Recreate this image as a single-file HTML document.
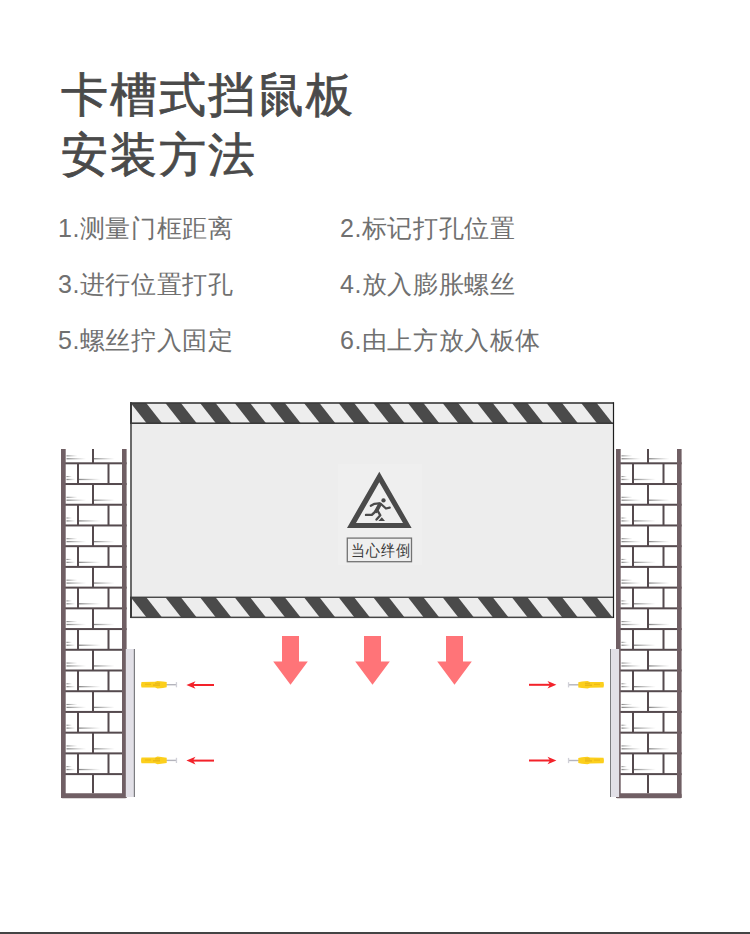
<!DOCTYPE html>
<html><head><meta charset="utf-8">
<style>
*{margin:0;padding:0;box-sizing:border-box}
html,body{width:750px;height:934px;background:#fff;overflow:hidden;font-family:"Liberation Sans",sans-serif;position:relative}
.t{position:absolute;left:61px;top:64.5px;color:#4a4a4a;font-size:47px;line-height:60px;white-space:nowrap;letter-spacing:2px;-webkit-text-stroke:0.8px #4a4a4a}
.li{position:absolute;color:#707070;font-size:25px;line-height:30px;white-space:nowrap;letter-spacing:0.55px}
.sg{position:absolute;left:351.3px;top:540px;font-size:14px;line-height:20px;color:#3a3a3a;white-space:nowrap;letter-spacing:0.75px;z-index:2;transform:scale(1,1.14);transform-origin:50% 50%}
</style></head><body>
<svg width="750" height="934" viewBox="0 0 750 934" style="position:absolute;left:0;top:0">
<defs>
<linearGradient id="sg" x1="0" x2="1" y1="0" y2="0"><stop offset="0" stop-color="#505050" stop-opacity="0.7"/><stop offset="0.5" stop-color="#606060" stop-opacity="0.35"/><stop offset="1" stop-color="#808080" stop-opacity="0"/></linearGradient>
<clipPath id="c1"><rect x="130.5" y="403" width="483" height="20.2"/></clipPath>
<clipPath id="c2"><rect x="130.5" y="597.3" width="483" height="20.2"/></clipPath>
</defs>
<rect x="61" y="449" width="65.6" height="346" fill="#fff"/>
<rect x="66.5" y="458.1" width="19.66" height="1.3" fill="url(#sg)"/>
<rect x="66.5" y="455.3" width="11" height="1.1" fill="url(#sg)"/>
<rect x="93.8" y="458.1" width="20.88" height="1.3" fill="url(#sg)"/>
<rect x="92" y="449" width="2" height="14.3" fill="#554a4e"/>
<rect x="66.5" y="478.82" width="8.86" height="1.3" fill="url(#sg)"/>
<rect x="66.5" y="476.02" width="5.53" height="1.1" fill="url(#sg)"/>
<rect x="78.8" y="478.82" width="21.96" height="1.3" fill="url(#sg)"/>
<rect x="77" y="463.3" width="2" height="20.72" fill="#554a4e"/>
<rect x="107.5" y="463.3" width="2" height="20.72" fill="#554a4e"/>
<rect x="66.5" y="499.54" width="19.66" height="1.3" fill="url(#sg)"/>
<rect x="66.5" y="496.74" width="11" height="1.1" fill="url(#sg)"/>
<rect x="93.8" y="499.54" width="20.88" height="1.3" fill="url(#sg)"/>
<rect x="92" y="484.02" width="2" height="20.72" fill="#554a4e"/>
<rect x="66.5" y="520.26" width="8.86" height="1.3" fill="url(#sg)"/>
<rect x="66.5" y="517.46" width="5.53" height="1.1" fill="url(#sg)"/>
<rect x="78.8" y="520.26" width="21.96" height="1.3" fill="url(#sg)"/>
<rect x="77" y="504.74" width="2" height="20.72" fill="#554a4e"/>
<rect x="107.5" y="504.74" width="2" height="20.72" fill="#554a4e"/>
<rect x="66.5" y="540.98" width="19.66" height="1.3" fill="url(#sg)"/>
<rect x="66.5" y="538.18" width="11" height="1.1" fill="url(#sg)"/>
<rect x="93.8" y="540.98" width="20.88" height="1.3" fill="url(#sg)"/>
<rect x="92" y="525.46" width="2" height="20.72" fill="#554a4e"/>
<rect x="66.5" y="561.7" width="8.86" height="1.3" fill="url(#sg)"/>
<rect x="66.5" y="558.9" width="5.53" height="1.1" fill="url(#sg)"/>
<rect x="78.8" y="561.7" width="21.96" height="1.3" fill="url(#sg)"/>
<rect x="77" y="546.18" width="2" height="20.72" fill="#554a4e"/>
<rect x="107.5" y="546.18" width="2" height="20.72" fill="#554a4e"/>
<rect x="66.5" y="582.42" width="19.66" height="1.3" fill="url(#sg)"/>
<rect x="66.5" y="579.62" width="11" height="1.1" fill="url(#sg)"/>
<rect x="93.8" y="582.42" width="20.88" height="1.3" fill="url(#sg)"/>
<rect x="92" y="566.9" width="2" height="20.72" fill="#554a4e"/>
<rect x="66.5" y="603.14" width="8.86" height="1.3" fill="url(#sg)"/>
<rect x="66.5" y="600.34" width="5.53" height="1.1" fill="url(#sg)"/>
<rect x="78.8" y="603.14" width="21.96" height="1.3" fill="url(#sg)"/>
<rect x="77" y="587.62" width="2" height="20.72" fill="#554a4e"/>
<rect x="107.5" y="587.62" width="2" height="20.72" fill="#554a4e"/>
<rect x="66.5" y="623.86" width="19.66" height="1.3" fill="url(#sg)"/>
<rect x="66.5" y="621.06" width="11" height="1.1" fill="url(#sg)"/>
<rect x="93.8" y="623.86" width="20.88" height="1.3" fill="url(#sg)"/>
<rect x="92" y="608.34" width="2" height="20.72" fill="#554a4e"/>
<rect x="66.5" y="644.58" width="8.86" height="1.3" fill="url(#sg)"/>
<rect x="66.5" y="641.78" width="5.53" height="1.1" fill="url(#sg)"/>
<rect x="78.8" y="644.58" width="21.96" height="1.3" fill="url(#sg)"/>
<rect x="77" y="629.06" width="2" height="20.72" fill="#554a4e"/>
<rect x="107.5" y="629.06" width="2" height="20.72" fill="#554a4e"/>
<rect x="66.5" y="665.3" width="19.66" height="1.3" fill="url(#sg)"/>
<rect x="66.5" y="662.5" width="11" height="1.1" fill="url(#sg)"/>
<rect x="93.8" y="665.3" width="20.88" height="1.3" fill="url(#sg)"/>
<rect x="92" y="649.78" width="2" height="20.72" fill="#554a4e"/>
<rect x="66.5" y="686.02" width="8.86" height="1.3" fill="url(#sg)"/>
<rect x="66.5" y="683.22" width="5.53" height="1.1" fill="url(#sg)"/>
<rect x="78.8" y="686.02" width="21.96" height="1.3" fill="url(#sg)"/>
<rect x="77" y="670.5" width="2" height="20.72" fill="#554a4e"/>
<rect x="107.5" y="670.5" width="2" height="20.72" fill="#554a4e"/>
<rect x="66.5" y="706.74" width="19.66" height="1.3" fill="url(#sg)"/>
<rect x="66.5" y="703.94" width="11" height="1.1" fill="url(#sg)"/>
<rect x="93.8" y="706.74" width="20.88" height="1.3" fill="url(#sg)"/>
<rect x="92" y="691.22" width="2" height="20.72" fill="#554a4e"/>
<rect x="66.5" y="727.46" width="8.86" height="1.3" fill="url(#sg)"/>
<rect x="66.5" y="724.66" width="5.53" height="1.1" fill="url(#sg)"/>
<rect x="78.8" y="727.46" width="21.96" height="1.3" fill="url(#sg)"/>
<rect x="77" y="711.94" width="2" height="20.72" fill="#554a4e"/>
<rect x="107.5" y="711.94" width="2" height="20.72" fill="#554a4e"/>
<rect x="66.5" y="748.18" width="19.66" height="1.3" fill="url(#sg)"/>
<rect x="66.5" y="745.38" width="11" height="1.1" fill="url(#sg)"/>
<rect x="93.8" y="748.18" width="20.88" height="1.3" fill="url(#sg)"/>
<rect x="92" y="732.66" width="2" height="20.72" fill="#554a4e"/>
<rect x="66.5" y="768.9" width="8.86" height="1.3" fill="url(#sg)"/>
<rect x="66.5" y="766.1" width="5.53" height="1.1" fill="url(#sg)"/>
<rect x="78.8" y="768.9" width="21.96" height="1.3" fill="url(#sg)"/>
<rect x="77" y="753.38" width="2" height="20.72" fill="#554a4e"/>
<rect x="107.5" y="753.38" width="2" height="20.72" fill="#554a4e"/>
<rect x="92" y="774.1" width="2" height="19.2" fill="#554a4e"/>
<rect x="61" y="462.3" width="65.6" height="2" fill="#554a4e"/>
<rect x="61" y="483.02" width="65.6" height="2" fill="#554a4e"/>
<rect x="61" y="503.74" width="65.6" height="2" fill="#554a4e"/>
<rect x="61" y="524.46" width="65.6" height="2" fill="#554a4e"/>
<rect x="61" y="545.18" width="65.6" height="2" fill="#554a4e"/>
<rect x="61" y="565.9" width="65.6" height="2" fill="#554a4e"/>
<rect x="61" y="586.62" width="65.6" height="2" fill="#554a4e"/>
<rect x="61" y="607.34" width="65.6" height="2" fill="#554a4e"/>
<rect x="61" y="628.06" width="65.6" height="2" fill="#554a4e"/>
<rect x="61" y="648.78" width="65.6" height="2" fill="#554a4e"/>
<rect x="61" y="669.5" width="65.6" height="2" fill="#554a4e"/>
<rect x="61" y="690.22" width="65.6" height="2" fill="#554a4e"/>
<rect x="61" y="710.94" width="65.6" height="2" fill="#554a4e"/>
<rect x="61" y="731.66" width="65.6" height="2" fill="#554a4e"/>
<rect x="61" y="752.38" width="65.6" height="2" fill="#554a4e"/>
<rect x="61" y="773.1" width="65.6" height="2" fill="#554a4e"/>
<rect x="61" y="449" width="4.7" height="349" fill="#705f64"/>
<rect x="122" y="449" width="4.6" height="349" fill="#705f64"/>
<rect x="61" y="793.2" width="65.6" height="5" rx="1.5" fill="#705f64"/>
<rect x="616" y="449" width="65.6" height="346" fill="#fff"/>
<rect x="621.5" y="458.1" width="19.66" height="1.3" fill="url(#sg)"/>
<rect x="621.5" y="455.3" width="11" height="1.1" fill="url(#sg)"/>
<rect x="648.8" y="458.1" width="20.88" height="1.3" fill="url(#sg)"/>
<rect x="647" y="449" width="2" height="14.3" fill="#554a4e"/>
<rect x="621.5" y="478.82" width="8.86" height="1.3" fill="url(#sg)"/>
<rect x="621.5" y="476.02" width="5.53" height="1.1" fill="url(#sg)"/>
<rect x="633.8" y="478.82" width="21.96" height="1.3" fill="url(#sg)"/>
<rect x="632" y="463.3" width="2" height="20.72" fill="#554a4e"/>
<rect x="662.5" y="463.3" width="2" height="20.72" fill="#554a4e"/>
<rect x="621.5" y="499.54" width="19.66" height="1.3" fill="url(#sg)"/>
<rect x="621.5" y="496.74" width="11" height="1.1" fill="url(#sg)"/>
<rect x="648.8" y="499.54" width="20.88" height="1.3" fill="url(#sg)"/>
<rect x="647" y="484.02" width="2" height="20.72" fill="#554a4e"/>
<rect x="621.5" y="520.26" width="8.86" height="1.3" fill="url(#sg)"/>
<rect x="621.5" y="517.46" width="5.53" height="1.1" fill="url(#sg)"/>
<rect x="633.8" y="520.26" width="21.96" height="1.3" fill="url(#sg)"/>
<rect x="632" y="504.74" width="2" height="20.72" fill="#554a4e"/>
<rect x="662.5" y="504.74" width="2" height="20.72" fill="#554a4e"/>
<rect x="621.5" y="540.98" width="19.66" height="1.3" fill="url(#sg)"/>
<rect x="621.5" y="538.18" width="11" height="1.1" fill="url(#sg)"/>
<rect x="648.8" y="540.98" width="20.88" height="1.3" fill="url(#sg)"/>
<rect x="647" y="525.46" width="2" height="20.72" fill="#554a4e"/>
<rect x="621.5" y="561.7" width="8.86" height="1.3" fill="url(#sg)"/>
<rect x="621.5" y="558.9" width="5.53" height="1.1" fill="url(#sg)"/>
<rect x="633.8" y="561.7" width="21.96" height="1.3" fill="url(#sg)"/>
<rect x="632" y="546.18" width="2" height="20.72" fill="#554a4e"/>
<rect x="662.5" y="546.18" width="2" height="20.72" fill="#554a4e"/>
<rect x="621.5" y="582.42" width="19.66" height="1.3" fill="url(#sg)"/>
<rect x="621.5" y="579.62" width="11" height="1.1" fill="url(#sg)"/>
<rect x="648.8" y="582.42" width="20.88" height="1.3" fill="url(#sg)"/>
<rect x="647" y="566.9" width="2" height="20.72" fill="#554a4e"/>
<rect x="621.5" y="603.14" width="8.86" height="1.3" fill="url(#sg)"/>
<rect x="621.5" y="600.34" width="5.53" height="1.1" fill="url(#sg)"/>
<rect x="633.8" y="603.14" width="21.96" height="1.3" fill="url(#sg)"/>
<rect x="632" y="587.62" width="2" height="20.72" fill="#554a4e"/>
<rect x="662.5" y="587.62" width="2" height="20.72" fill="#554a4e"/>
<rect x="621.5" y="623.86" width="19.66" height="1.3" fill="url(#sg)"/>
<rect x="621.5" y="621.06" width="11" height="1.1" fill="url(#sg)"/>
<rect x="648.8" y="623.86" width="20.88" height="1.3" fill="url(#sg)"/>
<rect x="647" y="608.34" width="2" height="20.72" fill="#554a4e"/>
<rect x="621.5" y="644.58" width="8.86" height="1.3" fill="url(#sg)"/>
<rect x="621.5" y="641.78" width="5.53" height="1.1" fill="url(#sg)"/>
<rect x="633.8" y="644.58" width="21.96" height="1.3" fill="url(#sg)"/>
<rect x="632" y="629.06" width="2" height="20.72" fill="#554a4e"/>
<rect x="662.5" y="629.06" width="2" height="20.72" fill="#554a4e"/>
<rect x="621.5" y="665.3" width="19.66" height="1.3" fill="url(#sg)"/>
<rect x="621.5" y="662.5" width="11" height="1.1" fill="url(#sg)"/>
<rect x="648.8" y="665.3" width="20.88" height="1.3" fill="url(#sg)"/>
<rect x="647" y="649.78" width="2" height="20.72" fill="#554a4e"/>
<rect x="621.5" y="686.02" width="8.86" height="1.3" fill="url(#sg)"/>
<rect x="621.5" y="683.22" width="5.53" height="1.1" fill="url(#sg)"/>
<rect x="633.8" y="686.02" width="21.96" height="1.3" fill="url(#sg)"/>
<rect x="632" y="670.5" width="2" height="20.72" fill="#554a4e"/>
<rect x="662.5" y="670.5" width="2" height="20.72" fill="#554a4e"/>
<rect x="621.5" y="706.74" width="19.66" height="1.3" fill="url(#sg)"/>
<rect x="621.5" y="703.94" width="11" height="1.1" fill="url(#sg)"/>
<rect x="648.8" y="706.74" width="20.88" height="1.3" fill="url(#sg)"/>
<rect x="647" y="691.22" width="2" height="20.72" fill="#554a4e"/>
<rect x="621.5" y="727.46" width="8.86" height="1.3" fill="url(#sg)"/>
<rect x="621.5" y="724.66" width="5.53" height="1.1" fill="url(#sg)"/>
<rect x="633.8" y="727.46" width="21.96" height="1.3" fill="url(#sg)"/>
<rect x="632" y="711.94" width="2" height="20.72" fill="#554a4e"/>
<rect x="662.5" y="711.94" width="2" height="20.72" fill="#554a4e"/>
<rect x="621.5" y="748.18" width="19.66" height="1.3" fill="url(#sg)"/>
<rect x="621.5" y="745.38" width="11" height="1.1" fill="url(#sg)"/>
<rect x="648.8" y="748.18" width="20.88" height="1.3" fill="url(#sg)"/>
<rect x="647" y="732.66" width="2" height="20.72" fill="#554a4e"/>
<rect x="621.5" y="768.9" width="8.86" height="1.3" fill="url(#sg)"/>
<rect x="621.5" y="766.1" width="5.53" height="1.1" fill="url(#sg)"/>
<rect x="633.8" y="768.9" width="21.96" height="1.3" fill="url(#sg)"/>
<rect x="632" y="753.38" width="2" height="20.72" fill="#554a4e"/>
<rect x="662.5" y="753.38" width="2" height="20.72" fill="#554a4e"/>
<rect x="647" y="774.1" width="2" height="19.2" fill="#554a4e"/>
<rect x="616" y="462.3" width="65.6" height="2" fill="#554a4e"/>
<rect x="616" y="483.02" width="65.6" height="2" fill="#554a4e"/>
<rect x="616" y="503.74" width="65.6" height="2" fill="#554a4e"/>
<rect x="616" y="524.46" width="65.6" height="2" fill="#554a4e"/>
<rect x="616" y="545.18" width="65.6" height="2" fill="#554a4e"/>
<rect x="616" y="565.9" width="65.6" height="2" fill="#554a4e"/>
<rect x="616" y="586.62" width="65.6" height="2" fill="#554a4e"/>
<rect x="616" y="607.34" width="65.6" height="2" fill="#554a4e"/>
<rect x="616" y="628.06" width="65.6" height="2" fill="#554a4e"/>
<rect x="616" y="648.78" width="65.6" height="2" fill="#554a4e"/>
<rect x="616" y="669.5" width="65.6" height="2" fill="#554a4e"/>
<rect x="616" y="690.22" width="65.6" height="2" fill="#554a4e"/>
<rect x="616" y="710.94" width="65.6" height="2" fill="#554a4e"/>
<rect x="616" y="731.66" width="65.6" height="2" fill="#554a4e"/>
<rect x="616" y="752.38" width="65.6" height="2" fill="#554a4e"/>
<rect x="616" y="773.1" width="65.6" height="2" fill="#554a4e"/>
<rect x="616" y="449" width="4.7" height="349" fill="#705f64"/>
<rect x="677" y="449" width="4.6" height="349" fill="#705f64"/>
<rect x="616" y="793.2" width="65.6" height="5" rx="1.5" fill="#705f64"/>
<rect x="125.8" y="649" width="8.2" height="148" fill="#e2e0e7"/>
<rect x="133.8" y="649" width="1.2" height="148" fill="#7c7c80"/>
<rect x="610" y="649" width="1.1" height="148" fill="#7c7c80"/>
<rect x="611.1" y="649" width="8" height="148" fill="#e2e0e7"/>
<!-- board -->
<rect x="130.5" y="403" width="483" height="214.5" fill="#ededed"/>
<g clip-path="url(#c1)">
<polygon points="61.4,403 76.9,403 92.8,423.2 77.3,423.2" fill="#4a4a4a"/>
<polygon points="96.05,403 111.55,403 127.45,423.2 111.95,423.2" fill="#4a4a4a"/>
<polygon points="130.7,403 146.2,403 162.1,423.2 146.6,423.2" fill="#4a4a4a"/>
<polygon points="165.35,403 180.85,403 196.75,423.2 181.25,423.2" fill="#4a4a4a"/>
<polygon points="200,403 215.5,403 231.4,423.2 215.9,423.2" fill="#4a4a4a"/>
<polygon points="234.65,403 250.15,403 266.05,423.2 250.55,423.2" fill="#4a4a4a"/>
<polygon points="269.3,403 284.8,403 300.7,423.2 285.2,423.2" fill="#4a4a4a"/>
<polygon points="303.95,403 319.45,403 335.35,423.2 319.85,423.2" fill="#4a4a4a"/>
<polygon points="338.6,403 354.1,403 370,423.2 354.5,423.2" fill="#4a4a4a"/>
<polygon points="373.25,403 388.75,403 404.65,423.2 389.15,423.2" fill="#4a4a4a"/>
<polygon points="407.9,403 423.4,403 439.3,423.2 423.8,423.2" fill="#4a4a4a"/>
<polygon points="442.55,403 458.05,403 473.95,423.2 458.45,423.2" fill="#4a4a4a"/>
<polygon points="477.2,403 492.7,403 508.6,423.2 493.1,423.2" fill="#4a4a4a"/>
<polygon points="511.85,403 527.35,403 543.25,423.2 527.75,423.2" fill="#4a4a4a"/>
<polygon points="546.5,403 562,403 577.9,423.2 562.4,423.2" fill="#4a4a4a"/>
<polygon points="581.15,403 596.65,403 612.55,423.2 597.05,423.2" fill="#4a4a4a"/>
<polygon points="615.8,403 631.3,403 647.2,423.2 631.7,423.2" fill="#4a4a4a"/>
</g>
<g clip-path="url(#c2)">
<polygon points="61.4,597.3 76.9,597.3 92.8,617.5 77.3,617.5" fill="#4a4a4a"/>
<polygon points="96.05,597.3 111.55,597.3 127.45,617.5 111.95,617.5" fill="#4a4a4a"/>
<polygon points="130.7,597.3 146.2,597.3 162.1,617.5 146.6,617.5" fill="#4a4a4a"/>
<polygon points="165.35,597.3 180.85,597.3 196.75,617.5 181.25,617.5" fill="#4a4a4a"/>
<polygon points="200,597.3 215.5,597.3 231.4,617.5 215.9,617.5" fill="#4a4a4a"/>
<polygon points="234.65,597.3 250.15,597.3 266.05,617.5 250.55,617.5" fill="#4a4a4a"/>
<polygon points="269.3,597.3 284.8,597.3 300.7,617.5 285.2,617.5" fill="#4a4a4a"/>
<polygon points="303.95,597.3 319.45,597.3 335.35,617.5 319.85,617.5" fill="#4a4a4a"/>
<polygon points="338.6,597.3 354.1,597.3 370,617.5 354.5,617.5" fill="#4a4a4a"/>
<polygon points="373.25,597.3 388.75,597.3 404.65,617.5 389.15,617.5" fill="#4a4a4a"/>
<polygon points="407.9,597.3 423.4,597.3 439.3,617.5 423.8,617.5" fill="#4a4a4a"/>
<polygon points="442.55,597.3 458.05,597.3 473.95,617.5 458.45,617.5" fill="#4a4a4a"/>
<polygon points="477.2,597.3 492.7,597.3 508.6,617.5 493.1,617.5" fill="#4a4a4a"/>
<polygon points="511.85,597.3 527.35,597.3 543.25,617.5 527.75,617.5" fill="#4a4a4a"/>
<polygon points="546.5,597.3 562,597.3 577.9,617.5 562.4,617.5" fill="#4a4a4a"/>
<polygon points="581.15,597.3 596.65,597.3 612.55,617.5 597.05,617.5" fill="#4a4a4a"/>
<polygon points="615.8,597.3 631.3,597.3 647.2,617.5 631.7,617.5" fill="#4a4a4a"/>
</g>
<rect x="130.5" y="402.2" width="483" height="1.6" fill="#383838"/>
<rect x="130.5" y="422.4" width="483" height="1.6" fill="#3a3a3a"/>
<rect x="130.5" y="596.6" width="483" height="1.3" fill="#383838"/>
<rect x="130.5" y="616.6" width="483" height="1.5" fill="#444"/>
<rect x="130" y="402.2" width="2" height="215.8" fill="#6a6a6a"/>
<rect x="130" y="402.2" width="2" height="21.8" fill="#3a3a3a"/>
<rect x="130" y="596.6" width="2" height="21.4" fill="#3a3a3a"/>
<rect x="612.9" y="402.2" width="1.2" height="215.8" fill="#1e1e1e"/>
<!-- sign -->
<rect x="337.5" y="464" width="84.5" height="101" fill="#f0f0f0" opacity="0.6"/>
<path d="M379.3 471.7 L411.6 528 L347 528 Z M379.3 482.3 L356 523 L403 523 Z" fill="#4a4a4a" fill-rule="evenodd"/>
<circle cx="383.5" cy="500.4" r="2.15" fill="#4a4a4a"/>
<g stroke="#4a4a4a" stroke-linecap="round" stroke-linejoin="round" fill="none">
<path d="M379 503.4 L374.5 503.8 L370.8 505.8" stroke-width="2.3"/>
<path d="M380 504.2 L376.2 511.2" stroke-width="3.8"/>
<path d="M381.5 504.5 L386 508.5 L389.7 507.6" stroke-width="2.3"/>
<path d="M376 511 L371.8 514.9 L366 514.9" stroke-width="2.4"/>
<path d="M377.5 510.5 L380.3 515.3 L376.5 519.5" stroke-width="2.4"/>
</g>
<path d="M378.4 521 L385 521 L381.8 517.2 Z" fill="#4a4a4a"/>
<rect x="347.3" y="538.1" width="64.2" height="23.6" fill="#efefef" stroke="#737373" stroke-width="1.3"/>
<path d="M282 636 H299 V661.6 H307.8 L290.5 684.8 L273.2 661.6 H282 Z" fill="#ff7478"/>
<path d="M364 636 H381 V661.6 H389.8 L372.5 684.8 L355.2 661.6 H364 Z" fill="#ff7478"/>
<path d="M446 636 H463 V661.6 H471.8 L454.5 684.8 L437.2 661.6 H446 Z" fill="#ff7478"/>
<g>
<rect x="166" y="684" width="10.5" height="1.4" fill="#b4b4bc"/>
<rect x="175.8" y="682.1" width="1.3" height="5.2" fill="#d0d0d8"/>
<path d="M141.5 681.9 L155 681.8 L157.5 680.9 L163 681.5 L166.7 682.1 L166.7 687.3 L163 687.9 L157.5 688.5 L155 687.6 L141.5 687.5 Q140.6 684.7 141.5 681.9 Z" fill="#fccf1c"/>
<rect x="145" y="683.7" width="6" height="1.2" fill="#e6a812" opacity="0.55"/>
<rect x="153" y="684.5" width="7" height="1.2" fill="#d9a010" opacity="0.6"/>
<rect x="155" y="682.7" width="5" height="1" fill="#c89a20" opacity="0.5"/>
</g>
<g>
<rect x="166" y="759.7" width="10.5" height="1.4" fill="#b4b4bc"/>
<rect x="175.8" y="757.8" width="1.3" height="5.2" fill="#d0d0d8"/>
<path d="M141.5 757.6 L155 757.5 L157.5 756.6 L163 757.2 L166.7 757.8 L166.7 763 L163 763.6 L157.5 764.2 L155 763.3 L141.5 763.2 Q140.6 760.4 141.5 757.6 Z" fill="#fccf1c"/>
<rect x="145" y="759.4" width="6" height="1.2" fill="#e6a812" opacity="0.55"/>
<rect x="153" y="760.2" width="7" height="1.2" fill="#d9a010" opacity="0.6"/>
<rect x="155" y="758.4" width="5" height="1" fill="#c89a20" opacity="0.5"/>
</g>
<g>
<rect x="568.5" y="684.1" width="10.5" height="1.4" fill="#b4b4bc"/>
<rect x="567.9" y="682.2" width="1.3" height="5.2" fill="#d0d0d8"/>
<path d="M603.5 682 L590 681.9 L587.5 681 L582 681.6 L578.3 682.2 L578.3 687.4 L582 688 L587.5 688.6 L590 687.7 L603.5 687.6 Q604.4 684.8 603.5 682 Z" fill="#fccf1c"/>
<rect x="594" y="683.8" width="6" height="1.2" fill="#e6a812" opacity="0.55"/>
<rect x="585" y="684.6" width="7" height="1.2" fill="#d9a010" opacity="0.6"/>
<rect x="585" y="682.8" width="5" height="1" fill="#c89a20" opacity="0.5"/>
</g>
<g>
<rect x="568.5" y="759.8" width="10.5" height="1.4" fill="#b4b4bc"/>
<rect x="567.9" y="757.9" width="1.3" height="5.2" fill="#d0d0d8"/>
<path d="M603.5 757.7 L590 757.6 L587.5 756.7 L582 757.3 L578.3 757.9 L578.3 763.1 L582 763.7 L587.5 764.3 L590 763.4 L603.5 763.3 Q604.4 760.5 603.5 757.7 Z" fill="#fccf1c"/>
<rect x="594" y="759.5" width="6" height="1.2" fill="#e6a812" opacity="0.55"/>
<rect x="585" y="760.3" width="7" height="1.2" fill="#d9a010" opacity="0.6"/>
<rect x="585" y="758.5" width="5" height="1" fill="#c89a20" opacity="0.5"/>
</g>
<rect x="192" y="684" width="22" height="2" fill="#f3222a"/>
<path d="M186.4 685 L195.5 681.2 L193 685 L195.5 688.8 Z" fill="#f3222a"/>
<rect x="192" y="759.6" width="22" height="2" fill="#f3222a"/>
<path d="M186.4 760.6 L195.5 756.8 L193 760.6 L195.5 764.4 Z" fill="#f3222a"/>
<rect x="529" y="683.8" width="22" height="2" fill="#f3222a"/>
<path d="M556.4 684.8 L547.5 681 L550 684.8 L547.5 688.6 Z" fill="#f3222a"/>
<rect x="529" y="759.5" width="22" height="2" fill="#f3222a"/>
<path d="M556.4 760.5 L547.5 756.7 L550 760.5 L547.5 764.3 Z" fill="#f3222a"/>
<rect x="0" y="932" width="750" height="2" fill="#444"/>
</svg>
<div class="t">卡槽式挡鼠板<br>安装方法</div>
<div class="li" style="left:58px;top:212.8px">1.测量门框距离</div>
<div class="li" style="left:340px;top:212.8px">2.标记打孔位置</div>
<div class="li" style="left:58px;top:268.8px">3.进行位置打孔</div>
<div class="li" style="left:340px;top:268.8px">4.放入膨胀螺丝</div>
<div class="li" style="left:58px;top:324.8px">5.螺丝拧入固定</div>
<div class="li" style="left:340px;top:324.8px">6.由上方放入板体</div>
<div class="sg">当心绊倒</div>
</body></html>
